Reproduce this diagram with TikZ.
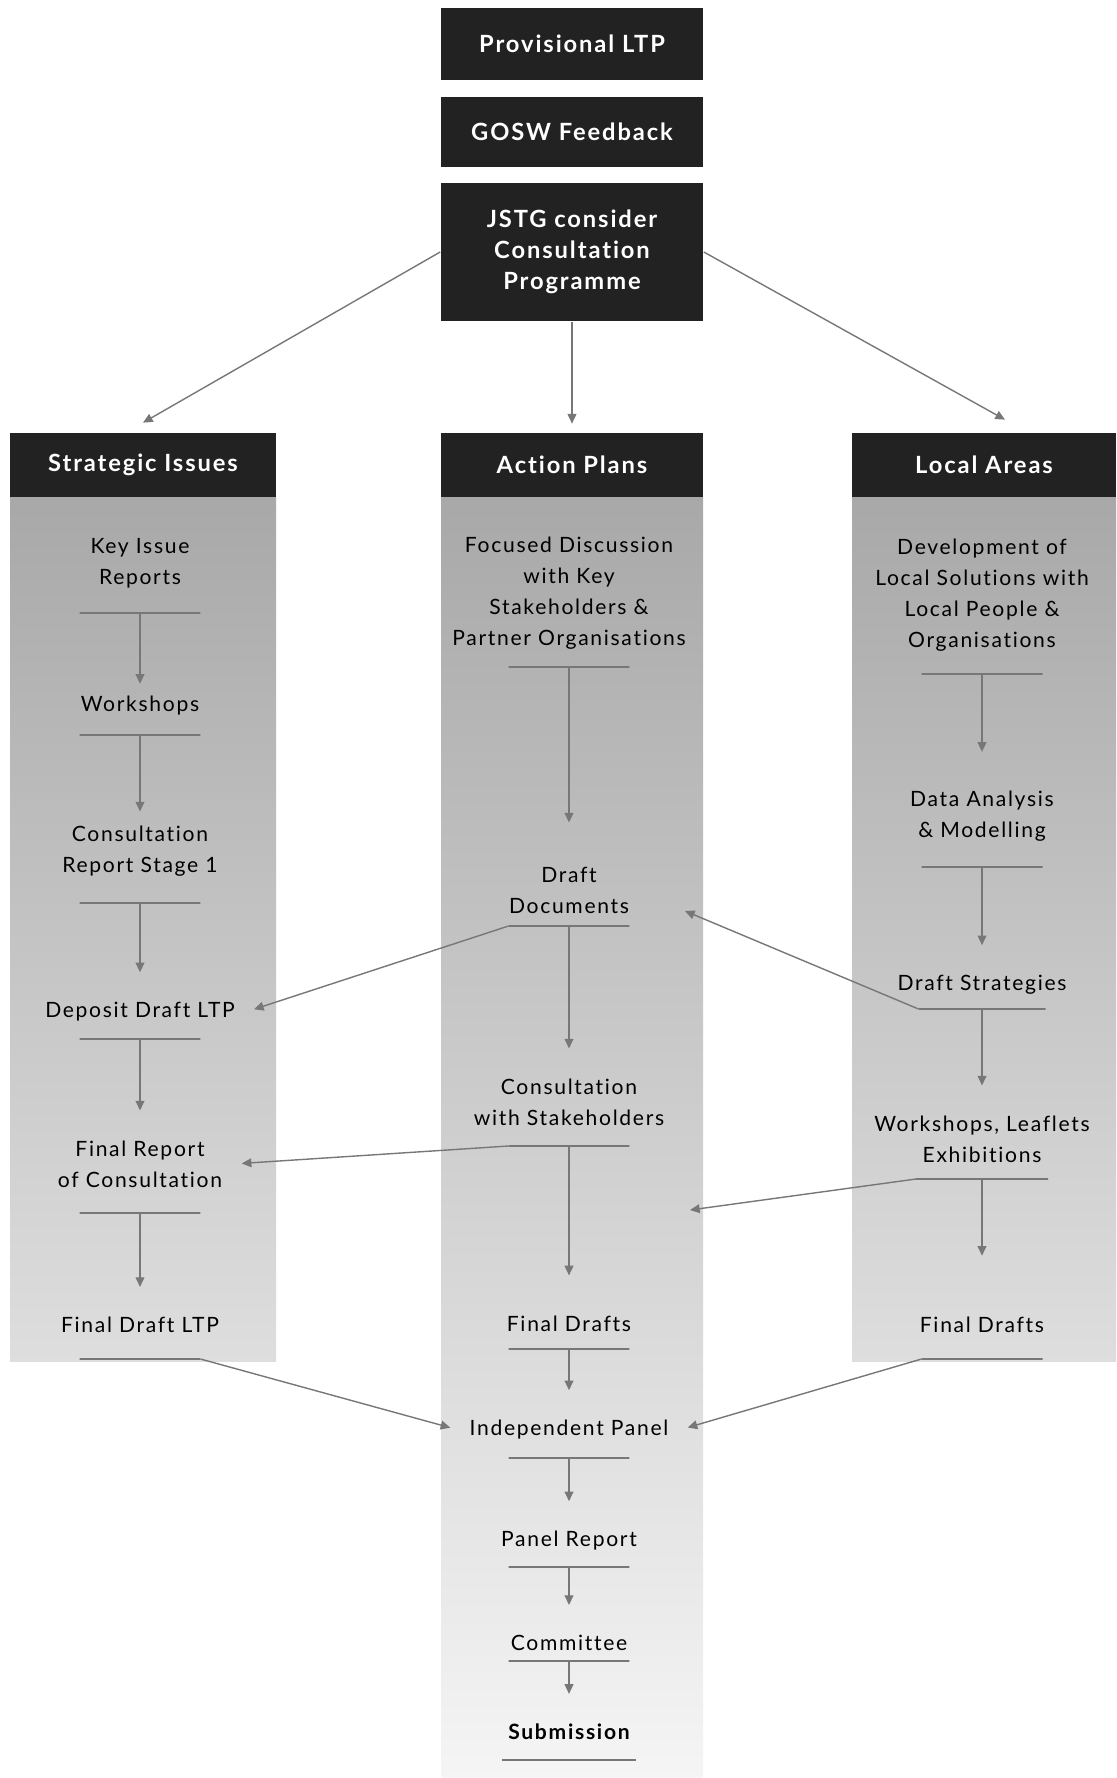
\documentclass[tikz,border=0pt]{standalone}
\usepackage{fontspec}
\setmainfont{Lato}[LetterSpace=8, Ligatures=NoCommon]
\usetikzlibrary{arrows.meta, positioning, calc}
\definecolor{boxdark}{HTML}{222222}
\definecolor{linegray}{HTML}{777777}

\begin{document}
\begin{tikzpicture}[
		x=0.02cm, y=-0.02cm,
		head/.style={
			fill=boxdark,
			text=white,
			align=center,
			inner sep=0pt,
			font=\fontsize{13.5}{17.6}\selectfont\bfseries
		},
		item/.style={
			align=center,
			inner xsep=6pt,
			inner ysep=12pt,
			font=\fontsize{12}{17.6}\selectfont
		},
		bar/.style={
			draw=linegray,
			line width=1.1pt,
			minimum width=2.42cm,
			minimum height=0pt,
			inner sep=0pt,
			outer sep=0pt
		},
		flow/.style={
			draw=linegray,
			line width=0.8pt,
			-{Triangle[length=5.5pt, width=5pt]},
			shorten >=5pt
		}
	]
	\useasboundingbox (0,0) rectangle (1116,1778);

	% shaded columns
	\shade[top color=black!34, bottom color=black!13] (10,497) rectangle (276,1361);
	\shade[top color=black!34, bottom color=black!4] (441,497) rectangle (703,1778);
	\shade[top color=black!34, bottom color=black!13] (852,497) rectangle (1116,1361);

	% top boxes
	\node[head, minimum width=5.26cm, minimum height=1.46cm] (prov) at (572,44) {Provisional LTP};
	\node[head, minimum width=5.26cm, minimum height=1.40cm] (gosw) at (572,132) {GOSW Feedback};
	\node[head, minimum width=5.26cm, minimum height=2.78cm] (jstg) at (572,252) {JSTG consider\\Consultation\\Programme};

	% column heads
	\node[head, minimum width=5.32cm, minimum height=1.28cm] (si) at (143,465) {Strategic Issues};
	\node[head, minimum width=5.24cm, minimum height=1.28cm] (ap) at (572,465) {Action Plans};
	\node[head, minimum width=5.28cm, minimum height=1.28cm] (la) at (984,465) {Local Areas};

	\draw[flow, shorten >=0pt] (jstg.west) -- ([yshift=0.2cm]si.north);
	\draw[flow, shorten >=0pt] (jstg) -- ([yshift=0.18cm]ap.north);
	\draw[flow, shorten >=0pt] (jstg.east) -- ([xshift=0.42cm, yshift=0.26cm]la.north);

	% Strategic Issues
	\node[item] (kir) at (140,563) {Key Issue\\Reports};
	\node[item, inner ysep=2pt] (ws) at (140,706) {Workshops};
	\node[item, inner ysep=3pt] (crs) at (140,851) {Consultation\\Report Stage 1};
	\node[item] (ddl) at (140,1012) {Deposit Draft LTP};
	\node[item] (frc) at (140,1164) {Final Report\\of Consultation};
	\node[item] (fdl) at (140,1325) {Final Draft LTP};
	\node[bar] (kir-u) at (140,613) {};
	\node[bar] (ws-u) at (140,735) {};
	\node[bar] (crs-u) at (140,903) {};
	\node[bar] (ddl-u) at (140,1039) {};
	\node[bar] (frc-u) at (140,1213) {};
	\node[bar] (fdl-u) at (140,1359) {};

	% Action Plans
	\node[item] (fd) at (569,593) {Focused Discussion\\with Key\\Stakeholders \&\\Partner Organisations};
	\node[item, inner ysep=20pt] (ddoc) at (569,890) {Draft\\Documents};
	\node[item] (cws) at (569,1102) {Consultation\\with Stakeholders};
	\node[item, inner ysep=18pt] (fdm) at (569,1324) {Final Drafts};
	\node[item] (ip) at (569,1430) {Independent Panel};
	\node[item] (pr) at (569,1541) {Panel Report};
	\node[item] (com) at (569,1643) {Committee};
	\node[item, font=\fontsize{12}{17.6}\selectfont\bfseries] (sub) at (569,1732) {Submission};
	\node[bar] (fd-u) at (569,667) {};
	\node[bar] (ddoc-u) at (569,926) {};
	\node[bar] (cws-u) at (569,1146) {};
	\node[bar] (fdm-u) at (569,1349) {};
	\node[bar] (ip-u) at (569,1458) {};
	\node[bar] (pr-u) at (569,1567) {};
	\node[bar] (com-u) at (569,1661) {};
	\node[bar, minimum width=2.68cm] (sub-u) at (569,1760) {};

	% Local Areas
	\node[item] (dev) at (982,595) {Development of\\Local Solutions with\\Local People \&\\Organisations};
	\node[item, inner ysep=17pt] (da) at (982,816) {Data Analysis\\\& Modelling};
	\node[item] (dst) at (982,985) {Draft Strategies};
	\node[item] (wle) at (982,1139) {Workshops, Leaflets\\Exhibitions};
	\node[item] (fdr) at (982,1325) {Final Drafts};
	\node[bar] (dev-u) at (982,674) {};
	\node[bar] (da-u) at (982,867) {};
	\node[bar, minimum width=2.54cm] (dst-u) at (982,1009) {};
	\node[bar, minimum width=2.64cm] (wle-u) at (982,1179) {};
	\node[bar] (fdr-u) at (982,1359) {};

	\foreach \a/\b in {kir/ws, ws/crs, crs/ddl, ddl/frc, frc/fdl,
			fd/ddoc, ddoc/cws, cws/fdm, fdm/ip, ip/pr, pr/com, com/sub,
			dev/da, da/dst, dst/wle}
		\draw[flow] (\a-u) -- (\b);
	\draw[flow, shorten >=0.8cm] (wle-u) -- (fdr);

	% links between the columns
	\coordinate (ddoc-in) at (685,911);
	\coordinate (cws-in) at (690,1210);
	\draw[flow] (ddoc-u.west) -- (ddl.east);
	\draw[flow] (cws-u.west) -- (frc.east);
	\draw[flow, shorten >=0pt] (dst-u.west) -- (ddoc-in);
	\draw[flow, shorten >=0pt] (wle-u.west) -- (cws-in);
	\draw[flow] (fdl-u.east) -- (ip.west);
	\draw[flow] (fdr-u.west) -- (ip.east);
\end{tikzpicture}
\end{document}
